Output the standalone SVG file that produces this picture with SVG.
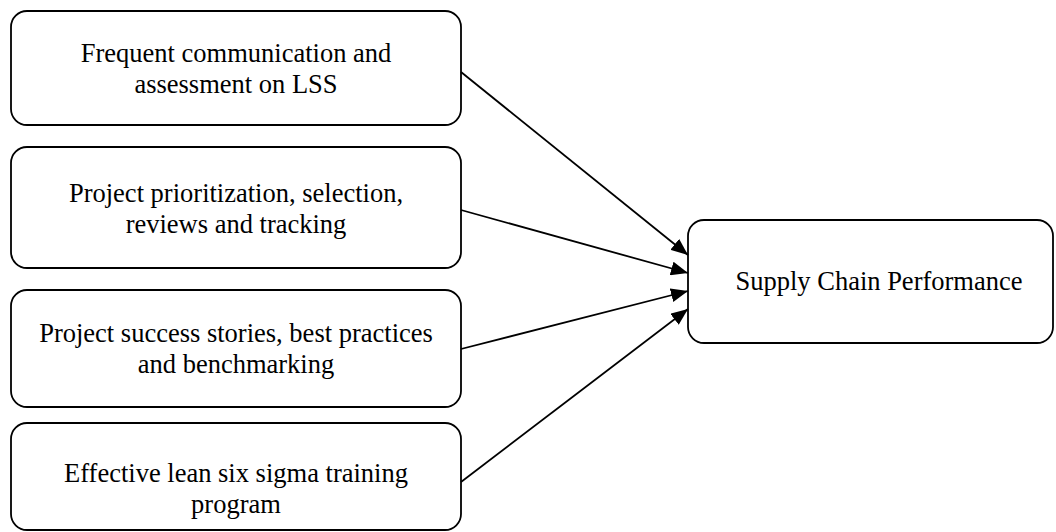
<svg xmlns="http://www.w3.org/2000/svg" width="1056" height="532" viewBox="0 0 1056 532">
<style>
.box{fill:#fff;stroke:#000;stroke-width:1.8}
.t{font-family:"Liberation Serif","Times New Roman",serif;font-size:26.5px;fill:#000;text-anchor:middle}
.c{stroke:#000;stroke-width:1.8;fill:none}
</style>
<defs>
<marker id="ah" markerUnits="userSpaceOnUse" markerWidth="18" markerHeight="14" refX="17" refY="7" orient="auto">
<path d="M0,0 L17,7 L0,14 Z" fill="#000"/>
</marker>
</defs>
<rect width="1056" height="532" fill="#fff"/>
<g id="n1"><rect class="box" x="11" y="11" width="450" height="114" rx="16"/>
<text class="t" x="236" y="62">Frequent communication and</text>
<text class="t" x="236" y="93">assessment on LSS</text></g>
<g id="n2"><rect class="box" x="11" y="147" width="450" height="121" rx="16"/>
<text class="t" x="236" y="202">Project prioritization, selection,</text>
<text class="t" x="236" y="233">reviews and tracking</text></g>
<g id="n3"><rect class="box" x="11" y="290" width="450" height="117" rx="16"/>
<text class="t" x="236" y="342">Project success stories, best practices</text>
<text class="t" x="236" y="373">and benchmarking</text></g>
<g id="n4"><rect class="box" x="11" y="423" width="450" height="107" rx="16"/>
<text class="t" x="236" y="482">Effective lean six sigma training</text>
<text class="t" x="236" y="513">program</text></g>
<g id="n5"><rect class="box" x="688" y="220" width="365" height="123" rx="16"/>
<text class="t" x="879" y="290">Supply Chain Performance</text></g>
<g id="connectors">
<line class="c" x1="461" y1="72" x2="688" y2="255" marker-end="url(#ah)"/>
<line class="c" x1="461" y1="210" x2="688" y2="273" marker-end="url(#ah)"/>
<line class="c" x1="461" y1="349" x2="688" y2="291" marker-end="url(#ah)"/>
<line class="c" x1="461" y1="482" x2="688" y2="309" marker-end="url(#ah)"/>
</g>
</svg>
